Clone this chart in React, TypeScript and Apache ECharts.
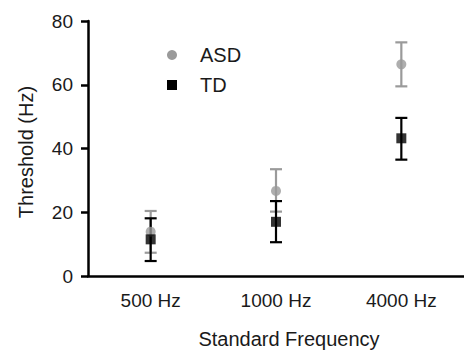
import React, { useEffect, useRef } from "react";
import * as echarts from "echarts";

const categories = ["500 Hz", "1000 Hz", "4000 Hz"];
const asdMean = [13.9, 26.7, 66.4];
const asdLow = [7.3, 20.2, 59.5];
const asdHigh = [20.4, 33.5, 73.3];
const tdMean = [11.5, 17.0, 43.2];
const tdLow = [4.7, 10.6, 36.5];
const tdHigh = [18.1, 23.5, 49.6];
const yTicks = [0, 20, 40, 60, 80];

const FONT = "'Liberation Sans', Arial, Helvetica, sans-serif";
const GRAY = "#9a9a9a";
const BLACK = "#000";
const TEXT = "#1a1a1a";

function errorSeries(name: string, low: number[], high: number[], color: string) {
  return {
    type: "custom",
    name,
    data: categories.map((_, i) => [i, low[i], high[i]]),
    encode: { x: 0, y: [1, 2] },
    itemStyle: { color },
    renderItem: (params: any, api: any) => {
      const x = api.value(0);
      const lo = api.coord([x, api.value(1)]);
      const hi = api.coord([x, api.value(2)]);
      const half = 6;
      const style = { stroke: color, lineWidth: 2.2 };
      return {
        type: "group",
        children: [
          { type: "line", shape: { x1: lo[0], y1: lo[1], x2: hi[0], y2: hi[1] }, style },
          { type: "line", shape: { x1: lo[0] - half, y1: lo[1], x2: lo[0] + half, y2: lo[1] }, style },
          { type: "line", shape: { x1: hi[0] - half, y1: hi[1], x2: hi[0] + half, y2: hi[1] }, style },
        ],
      };
    },
    silent: true,
  };
}

export default function App() {
  const ref = useRef<HTMLDivElement>(null);
  useEffect(() => {
    if (!ref.current) return;
    const chart = echarts.init(ref.current, undefined, { renderer: "svg" });
    chart.setOption({
      animation: false,
      backgroundColor: "#fff",
      textStyle: { fontFamily: FONT },
      grid: { left: 88, top: 21, width: 383, height: 255, containLabel: false },
      legend: {
        orient: "vertical",
        left: 162,
        top: 40,
        itemWidth: 10,
        itemHeight: 10,
        itemGap: 10,
        data: [
          { name: "ASD", icon: "circle", itemStyle: { color: GRAY } },
          { name: "TD", icon: "rect", itemStyle: { color: BLACK } },
        ],
        textStyle: { fontFamily: FONT, fontSize: 20, color: TEXT, lineHeight: 20, padding: [0, 0, 0, 18] },
      },
      xAxis: {
        type: "category",
        data: categories,
        boundaryGap: true,
        axisLine: { lineStyle: { color: BLACK, width: 2.5 } },
        axisTick: { alignWithLabel: true, length: 7, lineStyle: { color: BLACK, width: 2.5 } },
        axisLabel: { fontFamily: FONT, fontSize: 19, color: TEXT, margin: 15 },
        splitLine: { show: false },
      },
      yAxis: {
        type: "value",
        min: 0,
        max: 80,
        interval: 20,
        axisLine: { show: true, lineStyle: { color: BLACK, width: 2.5 } },
        axisTick: { show: true, length: 7, lineStyle: { color: BLACK, width: 2.5 } },
        axisLabel: {
          fontFamily: FONT,
          fontSize: 19,
          color: TEXT,
          margin: 15,
          formatter: (v: number) => (yTicks.includes(v) ? String(v) : ""),
        },
        splitLine: { show: false },
      },
      graphic: [
        {
          type: "text",
          x: 26,
          y: 152,
          rotation: Math.PI / 2,
          style: {
            text: "Threshold (Hz)",
            font: `20px ${FONT}`,
            fill: TEXT,
            align: "center",
            verticalAlign: "middle",
          },
        },
        {
          type: "text",
          x: 289,
          y: 339,
          style: {
            text: "Standard Frequency",
            font: `20px ${FONT}`,
            fill: TEXT,
            align: "center",
            verticalAlign: "middle",
          },
        },
      ],
      series: [
        errorSeries("ASD", asdLow, asdHigh, GRAY),
        {
          type: "scatter",
          name: "ASD",
          symbol: "circle",
          symbolSize: 10,
          itemStyle: { color: GRAY },
          data: asdMean.map((v, i) => [i, v]),
        },
        errorSeries("TD", tdLow, tdHigh, BLACK),
        {
          type: "scatter",
          name: "TD",
          symbol: "rect",
          symbolSize: 10,
          itemStyle: { color: BLACK },
          data: tdMean.map((v, i) => [i, v]),
        },
      ],
    });
    return () => chart.dispose();
  }, []);
  return <div ref={ref} style={{ width: 464, height: 352, position: "absolute", left: 0, top: 0 }} />;
}
